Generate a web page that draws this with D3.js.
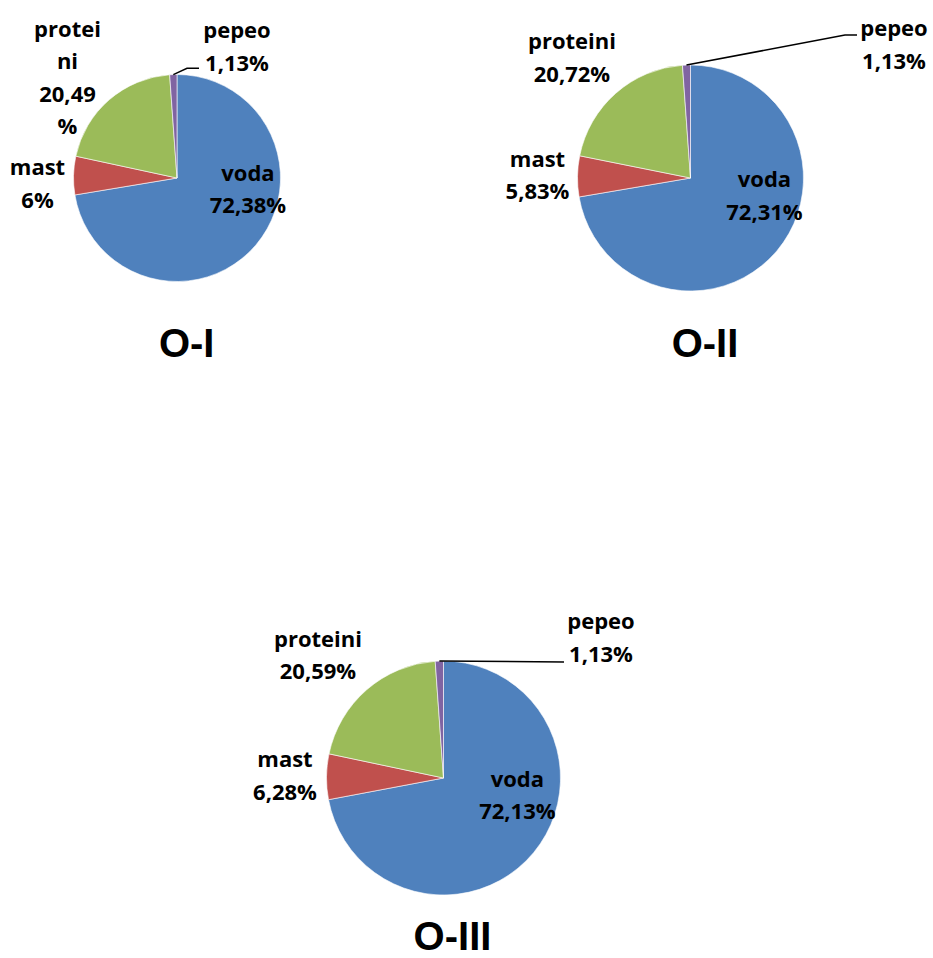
<!DOCTYPE html>
<html>
<head>
<meta charset="utf-8">
<script src="https://cdn.jsdelivr.net/npm/d3@7"></script>
<style>
  html, body { margin: 0; padding: 0; background: #ffffff; }
  svg { display: block; }
</style>
</head>
<body>
<svg id="chart" width="933" height="958"></svg>
<script>
// ---- data ----
const categories = ["voda", "mast", "proteini", "pepeo"];
const chartTitles = ["O-I", "O-II", "O-III"];
const valuesOI = [72.38, 6, 20.49, 1.13];
const valuesOII = [72.31, 5.83, 20.72, 1.13];
const valuesOIII = [72.13, 6.28, 20.59, 1.13];
const sliceColors = ["#4F81BD", "#C0504D", "#9BBB59", "#8064A2"];

// ---- layout (positions only) ----
const layouts = [
  { cx: 177, cy: 178, r: 103.5, title: [186.7, 357],
    labels: [
      { x: 248, y: 180.7 },
      { x: 37.5, y: 175 },
      { x: 67.5, y: 36.7, breakCat: 6, breakVal: 5 },
      { x: 237, y: 38.3, leader: [[187, 68.3], [199, 68.3]] }
    ] },
  { cx: 690.5, cy: 178, r: 113, title: [705, 357],
    labels: [
      { x: 764.5, y: 187.3 },
      { x: 537.5, y: 166.7 },
      { x: 572, y: 49 },
      { x: 894, y: 36, leader: [[845, 35], [857, 35]] }
    ] },
  { cx: 443.5, cy: 778, r: 117, title: [452.5, 950],
    labels: [
      { x: 517.4, y: 786.7 },
      { x: 285, y: 767.3 },
      { x: 318, y: 646.7 },
      { x: 601, y: 629.3, leader: [[564, 662]] }
    ] }
];
const allValues = [valuesOI, valuesOII, valuesOIII];
const lineH = 32.5;

const svg = d3.select("#chart");
const color = d3.scaleOrdinal().domain(categories).range(sliceColors);
const pie = d3.pie().sort(null).value(d => d.value).startAngle(0).endAngle(2 * Math.PI);
const fmt = v => String(v).replace(".", ",") + "%";

allValues.forEach((vals, i) => {
  const L = layouts[i];
  const data = categories.map((c, k) => ({ cat: c, value: vals[k] }));
  const arcs = pie(data);
  const arc = d3.arc().innerRadius(0).outerRadius(L.r);
  const g = svg.append("g").attr("transform", `translate(${L.cx},${L.cy})`);
  g.selectAll("path").data(arcs).join("path")
    .attr("d", arc)
    .attr("fill", d => color(d.data.cat))
    .attr("stroke", "#ffffff")
    .attr("stroke-width", 0.6);

  arcs.forEach((a, k) => {
    const lab = L.labels[k];
    const cat = a.data.cat;
    const val = fmt(a.data.value);
    let lines;
    if (lab.breakCat) {
      lines = [cat.slice(0, lab.breakCat), cat.slice(lab.breakCat),
               val.slice(0, lab.breakVal), val.slice(lab.breakVal)];
    } else {
      lines = [cat, val];
    }
    const t = svg.append("text")
      .attr("text-anchor", "middle")
      .attr("font-family", "'Open Sans', sans-serif")
      .attr("font-weight", "bold")
      .attr("font-size", 22)
      .attr("fill", "#000");
    lines.forEach((ln, j) => {
      t.append("tspan").attr("x", lab.x).attr("y", lab.y + j * lineH).text(ln);
    });
    if (lab.leader) {
      const mid = (a.startAngle + a.endAngle) / 2;
      const p0 = [L.cx + L.r * Math.sin(mid), L.cy - L.r * Math.cos(mid)];
      svg.append("path")
        .attr("d", d3.line()([p0, ...lab.leader]))
        .attr("fill", "none")
        .attr("stroke", "#000")
        .attr("stroke-width", 1.5);
    }
  });

  svg.append("text")
    .attr("x", L.title[0]).attr("y", L.title[1])
    .attr("text-anchor", "middle")
    .attr("font-family", "'Liberation Sans', Arial, sans-serif")
    .attr("font-weight", "bold")
    .attr("font-size", 40)
    .attr("fill", "#000")
    .text(chartTitles[i]);
});
</script>
</body>
</html>
